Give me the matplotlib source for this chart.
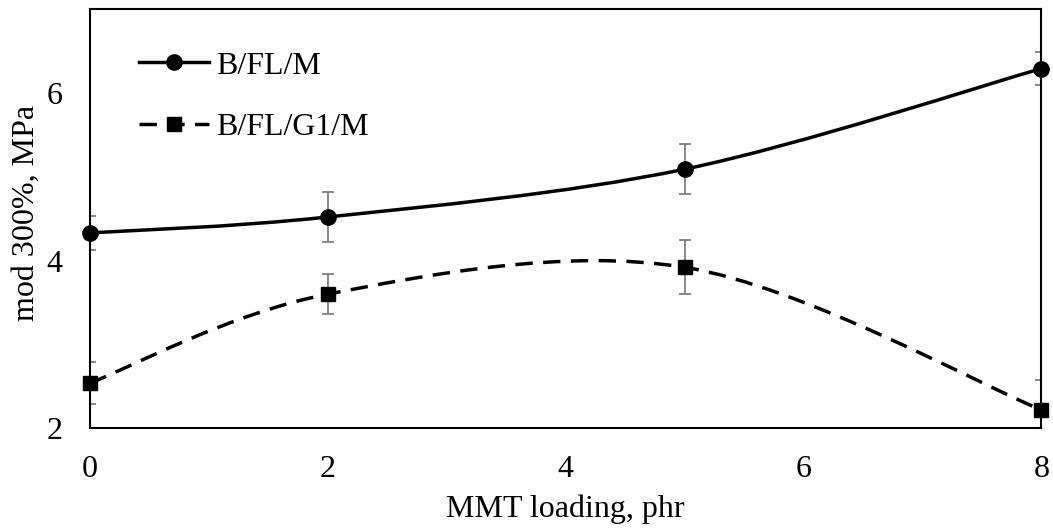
#!/usr/bin/env python3
"""mod 300% vs MMT loading, Excel style smoothed lines."""
import numpy as np
import matplotlib
matplotlib.use('Agg')
import matplotlib.pyplot as plt
from matplotlib.path import Path
from matplotlib.patches import PathPatch

plt.rcParams['font.family'] = ['Liberation Serif', 'DejaVu Serif']

loading = [0, 2, 5, 8]
mod_bflm = [4.33, 4.52, 5.09, 6.29]
err_bflm = [0.2, 0.3, 0.3, 0.2]
mod_bflg1m = [2.54, 3.60, 3.92, 2.22]
err_bflg1m = [0.25, 0.24, 0.32, 0.36]
LABELS = ['B/FL/M', 'B/FL/G1/M']


def smooth_path(xs, ys):
    """Catmull-Rom like bezier path (what excel does for smoothed lines)."""
    pts = np.column_stack([xs, ys]).astype(float)
    n = len(pts)
    verts = [pts[0]]
    codes = [Path.MOVETO]
    for i in range(n - 1):
        p0 = pts[max(i - 1, 0)]
        p1 = pts[i]
        p2 = pts[i + 1]
        p3 = pts[min(i + 2, n - 1)]
        c1 = p1 + (p2 - p0) / 6.0
        c2 = p2 - (p3 - p1) / 6.0
        verts += [c1, c2, p2]
        codes += [Path.CURVE4] * 3
    return Path(verts, codes)


fig = plt.figure(figsize=(10.53, 5.31), dpi=100)
ax = fig.add_axes([0.0855, 0.1934, 0.9035, 0.7896])

series = [
    (mod_bflm, err_bflm, 'o', 11, '-'),
    (mod_bflg1m, err_bflg1m, 's', 9.5, (0, (5, 3))),
]
handles = []
for (vals, errs, mk, ms, ls), lab in zip(series, LABELS):
    ax.errorbar(loading, vals, yerr=errs, fmt='none', ecolor='#7f7f7f',
                elinewidth=1.3, capsize=4.2, capthick=1.3, zorder=2)
    patch = PathPatch(smooth_path(loading, vals), facecolor='none',
                      edgecolor='black', lw=2.5, linestyle=ls, zorder=3)
    ax.add_patch(patch)
    ax.plot(loading, vals, linestyle='none', marker=mk, ms=ms,
            color='black', zorder=4, clip_on=False)
    h, = ax.plot([], [], color='black', lw=2.5, linestyle=ls, marker=mk, ms=ms)
    handles.append(h)

ax.set_xlim(0, 8)
ax.set_ylim(2, 7)
ax.set_xticks([0, 2, 4, 6, 8])
ax.set_yticks([2, 4, 6])
ax.tick_params(length=0, labelsize=23)
ax.tick_params(axis='x', pad=19)
ax.tick_params(axis='y', pad=20)
for sp in ax.spines.values():
    sp.set_linewidth(1.5)
ax.set_xlabel('MMT loading, phr', fontsize=23, labelpad=8)
ax.set_ylabel('mod 300%, MPa', fontsize=23, labelpad=4)
ax.yaxis.label.set_y(0.513)

ax.legend(handles, LABELS, loc='upper left', frameon=False, fontsize=23,
          handlelength=2.2, labelspacing=1.0, borderaxespad=0.0,
          bbox_to_anchor=(0.038, 0.93), handletextpad=0.22)

fig.savefig('out.png', dpi=100)
